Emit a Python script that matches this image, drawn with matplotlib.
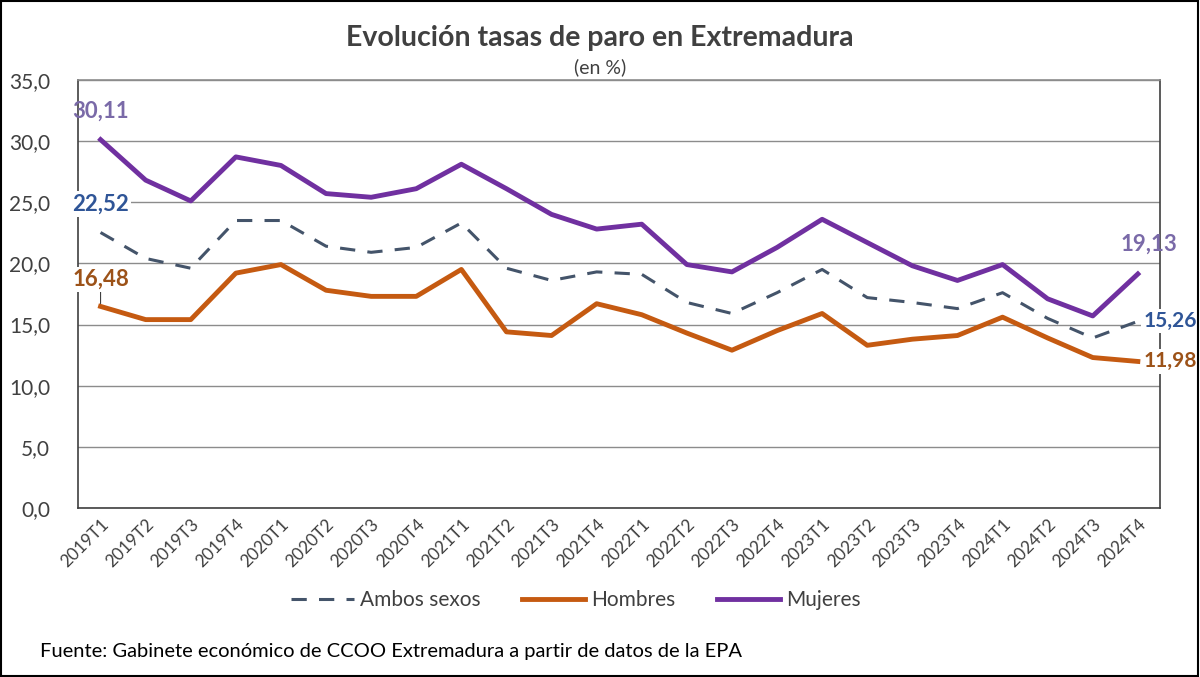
import matplotlib.pyplot as plt
from matplotlib.patches import Rectangle

plt.rcParams['font.family'] = ['Lato', 'DejaVu Sans']

# datos (tasas de paro, %)
trimestres = ['2019T1', '2019T2', '2019T3', '2019T4', '2020T1', '2020T2', '2020T3', '2020T4',
              '2021T1', '2021T2', '2021T3', '2021T4', '2022T1', '2022T2', '2022T3', '2022T4',
              '2023T1', '2023T2', '2023T3', '2023T4', '2024T1', '2024T2', '2024T3', '2024T4']
ambos = [22.52, 20.4, 19.6, 23.5, 23.5, 21.4, 20.9, 21.3, 23.3, 19.6, 18.6, 19.3,
         19.1, 16.8, 15.9, 17.6, 19.5, 17.2, 16.8, 16.3, 17.6, 15.5, 13.9, 15.26]
hombres = [16.48, 15.4, 15.4, 19.2, 19.9, 17.8, 17.3, 17.3, 19.5, 14.4, 14.1, 16.7,
           15.8, 14.3, 12.9, 14.5, 15.9, 13.3, 13.8, 14.1, 15.6, 13.9, 12.3, 11.98]
mujeres = [30.11, 26.8, 25.1, 28.7, 28.0, 25.7, 25.4, 26.1, 28.1, 26.1, 24.0, 22.8,
           23.2, 19.9, 19.3, 21.3, 23.6, 21.7, 19.8, 18.6, 19.9, 17.1, 15.7, 19.13]
yticks = [0, 5, 10, 15, 20, 25, 30, 35]


def fmt(v, nd=2):
    return f"{v:.{nd}f}".replace('.', ',')


fig = plt.figure(figsize=(12, 6.77), dpi=100)
ax = fig.add_axes([0.065, 0.2496, 0.902, 0.6325])

x = range(len(trimestres))
ax.plot(x, ambos, color='#44546A', lw=2.2, dashes=(5, 4), label='Ambos sexos')
ax.plot(x, hombres, color='#C55A11', lw=3.5, label='Hombres', solid_joinstyle='round')
ax.plot(x, mujeres, color='#7030A0', lw=3.5, label='Mujeres', solid_joinstyle='round')

ax.set_xlim(-0.5, len(trimestres) - 0.5)
ax.set_ylim(0, 35)
ax.set_yticks(yticks)
ax.set_yticklabels([fmt(v, 1) for v in yticks], fontsize=15, color='#404040')
ax.set_xticks(list(x))
ax.set_xticklabels(trimestres, rotation=45, ha='right', rotation_mode='anchor',
                   fontsize=12.5, color='#404040')
ax.tick_params(axis='y', length=0, pad=20)
ax.tick_params(axis='x', length=0, pad=6)
ax.grid(axis='y', color='#8c8c8c', lw=1)
ax.set_axisbelow(True)
for s in ax.spines.values():
    s.set_color('#404040')
    s.set_linewidth(1.2)
ax.spines['top'].set_color('#8c8c8c')

# etiquetas de datos
lbl = dict(fontsize=16, fontweight='bold', zorder=5)
bg = dict(boxstyle='square,pad=0.1', fc='white', ec='none')
ax.annotate(fmt(mujeres[0]), (0, mujeres[0]), xytext=(0, 13), textcoords='offset points',
            ha='center', va='bottom', color='#7A6AA8', **lbl)
ax.annotate(fmt(ambos[0]), (0, ambos[0]), xytext=(0, 13), textcoords='offset points',
            ha='center', va='bottom', color='#2F5597', bbox=bg, **lbl)
ax.annotate(fmt(hombres[0]), (0, hombres[0]), xytext=(0, 12), textcoords='offset points',
            ha='center', va='bottom', color='#9C5218', bbox=bg,
            arrowprops=dict(arrowstyle='-', color='#404040', lw=0.8, shrinkA=0, shrinkB=2), **lbl)
n = len(trimestres) - 1
ax.annotate(fmt(mujeres[n]), (n, mujeres[n]), xytext=(8, 14), textcoords='offset points',
            ha='center', va='bottom', color='#7A6AA8', **lbl)
lbl_r = dict(lbl, fontsize=15)
ax.annotate(fmt(ambos[n]), (n, ambos[n]), xytext=(4, 0), textcoords='offset points',
            ha='left', va='center', color='#2F5597', bbox=bg, **lbl_r)
ax.annotate(fmt(hombres[n]), (n, hombres[n]), xytext=(4, 0), textcoords='offset points',
            ha='left', va='center', color='#9C5218', bbox=bg, **lbl_r)

fig.text(0.5, 0.944, 'Evolución tasas de paro en Extremadura', ha='center', va='center',
         fontsize=20.5, fontweight='bold', color='#404040')
fig.text(0.5, 0.9, '(en %)', ha='center', va='center', fontsize=14, color='#404040')

leg = fig.legend(loc='center', bbox_to_anchor=(0.48, 0.114), ncol=3, frameon=False,
                 fontsize=15, handlelength=3.0, columnspacing=2.0, handletextpad=0.3)
for t in leg.get_texts():
    t.set_color('#404040')

fig.text(0.033, 0.038, 'Fuente: Gabinete económico de CCOO Extremadura a partir de datos de la EPA',
         ha='left', va='center', fontsize=14.5, color='black')

fig.patches.append(Rectangle((0.001, 0.002), 0.997, 0.996, transform=fig.transFigure,
                             fill=False, ec='black', lw=1.5))

fig.savefig('out.png', dpi=100)
